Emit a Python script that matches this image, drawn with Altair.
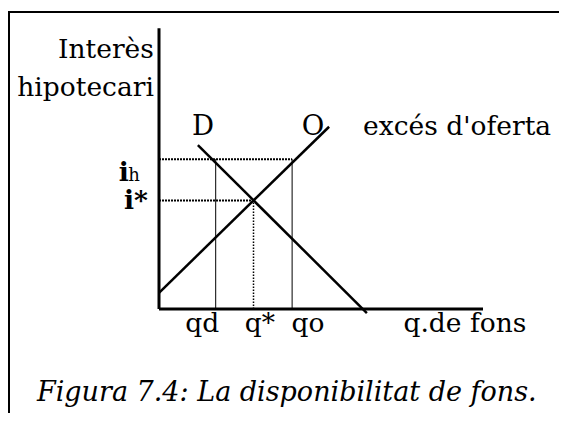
import altair as alt
import pandas as pd

# ---- data (chart units) ----
q_names = ["qd", "q*", "qo"]
q_vals = [2.1, 3.5, 4.93]
i_names = ["ih", "i*"]
i_vals = [5.55, 4.02]
demand_q = [1.44, 7.7]
demand_i = [6.07, -0.15]
supply_q = [0.0, 6.3]
supply_i = [0.6, 6.75]
axis_q_max = 12.0
axis_i_max = 10.4

# pixel layout helpers (27 px per unit, origin at page (159,309))
W, H = 551, 405
U = 27.0
OX, OY = 159 - 8, 309 - 8
xs = alt.Scale(domain=[-OX / U, (W - OX) / U], nice=False, zero=False)
ys = alt.Scale(domain=[(OY - H) / U, OY / U], nice=False, zero=False)
FONT = "DejaVu Serif"
FS = 26.5


def X(f="x"):
    return alt.X(f"{f}:Q", scale=xs, axis=None)


def Y(f="y"):
    return alt.Y(f"{f}:Q", scale=ys, axis=None)


base = alt.Chart(pd.DataFrame({"a": [0]}))

# axes
axes_df = pd.DataFrame({
    "x": [0, 0], "x2": [0, axis_q_max],
    "y": [0, 0], "y2": [axis_i_max, 0],
})
axes = alt.Chart(axes_df).mark_rule(color="black", strokeWidth=3).encode(
    x=X(), x2="x2:Q", y=Y(), y2="y2:Q")

demand = alt.Chart(pd.DataFrame({"x": demand_q, "y": demand_i})).mark_line(
    color="black", strokeWidth=2.5).encode(x=X(), y=Y())
supply = alt.Chart(pd.DataFrame({"x": supply_q, "y": supply_i})).mark_line(
    color="black", strokeWidth=2.5).encode(x=X(), y=Y())

# dotted horizontals
hdf = pd.DataFrame({"x": [0, 0], "x2": [q_vals[2], q_vals[1]], "y": i_vals})
hdots = alt.Chart(hdf).mark_rule(color="black", strokeWidth=2, strokeDash=[2, 1]).encode(
    x=X(), x2="x2:Q", y=Y())

# verticals
vdf_solid = pd.DataFrame({"x": [q_vals[0], q_vals[2]], "y": [0, 0], "y2": [i_vals[0], i_vals[0]]})
vsolid = alt.Chart(vdf_solid).mark_rule(color="black", strokeWidth=1).encode(
    x=X(), y=Y(), y2="y2:Q")
vdf_dot = pd.DataFrame({"x": [q_vals[1]], "y": [0], "y2": [i_vals[1]]})
vdot = alt.Chart(vdf_dot).mark_rule(color="black", strokeWidth=1.5, strokeDash=[1.5, 1.5]).encode(
    x=X(), y=Y(), y2="y2:Q")

# labels
qlab = pd.DataFrame({"t": q_names, "x": [1.6, 3.74, 5.52], "y": [-0.55] * 3})
qtext = alt.Chart(qlab).mark_text(font=FONT, fontSize=FS, baseline="middle").encode(
    x=X(), y=Y(), text="t:N")

side = pd.DataFrame({
    "t": ["Interès", "hipotecari"],
    "x": [-0.19, -0.19], "y": [9.58, 8.17]})
stext = alt.Chart(side).mark_text(font=FONT, fontSize=FS, align="right", baseline="middle").encode(
    x=X(), y=Y(), text="t:N")

ilab_main = pd.DataFrame({"t": ["i", "i*"], "x": [-1.12, -0.41], "y": [5.04, 4.0]})
itext = alt.Chart(ilab_main).mark_text(font=FONT, fontSize=FS, fontWeight="bold",
                                       align="right", baseline="middle").encode(
    x=X(), y=Y(), text="t:N")
hlab = pd.DataFrame({"t": ["h"], "x": [-1.14], "y": [4.92]})
htext = alt.Chart(hlab).mark_text(font=FONT, fontSize=18, align="left", baseline="middle").encode(
    x=X(), y=Y(), text="t:N")

curve_lab = pd.DataFrame({"t": ["D", "O"], "x": [1.63, 5.7], "y": [6.74, 6.74]})
ctext = alt.Chart(curve_lab).mark_text(font=FONT, fontSize=FS + 1, baseline="middle").encode(
    x=X(), y=Y(), text="t:N")

exc = pd.DataFrame({"t": ["excés d'oferta"], "x": [7.56], "y": [6.74]})
etext = alt.Chart(exc).mark_text(font=FONT, fontSize=FS, align="left", baseline="middle").encode(
    x=X(), y=Y(), text="t:N")

fons = pd.DataFrame({"t": ["q.de fons"], "x": [11.33], "y": [-0.55]})
ftext = alt.Chart(fons).mark_text(font=FONT, fontSize=FS, baseline="middle").encode(
    x=X(), y=Y(), text="t:N")

cap = pd.DataFrame({"t": ["Figura 7.4: La disponibilitat de fons."], "x": [-4.52], "y": [-3.1]})
captext = alt.Chart(cap).mark_text(font=FONT, fontSize=27, fontStyle="italic",
                                   align="left", baseline="middle").encode(
    x=X(), y=Y(), text="t:N")

# frame (top and left edges)
ftop = base.mark_rule(color="black", strokeWidth=2).encode(
    x=alt.value(0), x2=alt.value(W), y=alt.value(4))
fleft = base.mark_rule(color="black", strokeWidth=2).encode(
    x=alt.value(1), y=alt.value(4), y2=alt.value(H))

chart = alt.layer(
    ftop, fleft, hdots, vsolid, vdot, axes, demand, supply,
    qtext, stext, itext, htext, ctext, etext, ftext, captext
).properties(
    width=W, height=H, padding=0, autosize=alt.AutoSizeParams(type="none"),
    background="white"
).configure_view(stroke=None)

chart.save("out.html", embed_options={"renderer": "svg", "actions": False})
